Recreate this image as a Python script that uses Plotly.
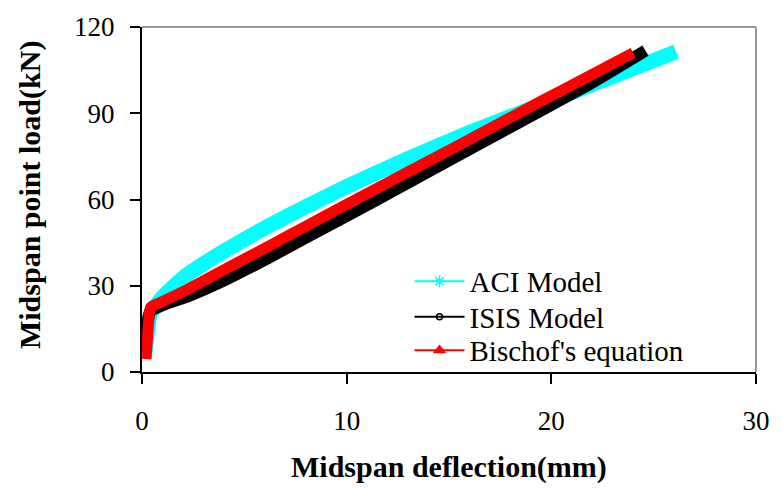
import plotly.graph_objects as go

# Midspan deflection (mm) vs midspan point load (kN) for three deflection models
aci_deflection = [0.12, 0.25, 0.4, 1.0, 2.0, 3.0, 4.0, 6.0, 8.0, 10.0, 13.0, 16.0, 19.5, 22.0, 24.0, 26.1]
aci_load = [5.0, 13.0, 20.0, 26.0, 32.7, 37.6, 42.0, 50.1, 57.5, 64.5, 74.2, 83.3, 93.0, 100.0, 105.6, 111.4]

isis_deflection = [0.05, 0.15, 0.3, 0.42, 1.0, 2.3, 4.2, 6.2, 8.0, 10.0, 13.0, 15.3, 19.5, 22.0, 24.6]
isis_load = [5.5, 12.0, 18.5, 21.3, 23.2, 26.5, 32.5, 39.8, 46.7, 54.3, 65.8, 74.8, 91.0, 100.7, 111.8]

bischof_deflection = [0.19, 0.25, 0.32, 0.42, 1.0, 2.3, 4.2, 6.2, 8.0, 10.0, 13.0, 15.3, 19.5, 22.0, 24.0]
bischof_load = [4.5, 10.0, 17.0, 22.5, 24.5, 29.0, 36.3, 43.8, 50.7, 58.3, 69.6, 78.2, 94.2, 103.5, 111.0]

x_ticks = [0, 10, 20, 30]
y_ticks = [0, 30, 60, 90, 120]

FONT = "Liberation Serif"

# name, x, y, colour, curve width, legend symbol, legend symbol size, legend id, legend row (px from top)
series = [
    ("ACI Model", aci_deflection, aci_load, "#00FFFF", 15, "asterisk-open", 10, "legend", 280),
    ("ISIS Model", isis_deflection, isis_load, "#000000", 12, "circle-open", 6, "legend2", 316),
    ("Bischof's equation", bischof_deflection, bischof_load, "#FF0000", 11, "triangle-up", 9, "legend3", 350),
]

fig = go.Figure()

# Heavy curves drawn from the data
for name, xs, ys, color, width, *_ in series:
    fig.add_trace(go.Scatter(
        x=xs, y=ys, mode="lines", name=name, showlegend=False,
        line=dict(color=color, width=width, shape="spline", smoothing=0.5),
    ))

# Legend entries: thin line with a single marker, each in its own legend box
for name, _, _, color, _, symbol, msize, legend_id, _ in series:
    fig.add_trace(go.Scatter(
        x=[None], y=[None], mode="lines+markers", name=name, legend=legend_id,
        line=dict(color=color, width=2),
        marker=dict(color=color, symbol=symbol, size=msize,
                    line=dict(color=color, width=1.5)),
    ))

axis_common = dict(
    showgrid=False, zeroline=False, showline=True, linecolor="black", linewidth=2,
    ticks="outside", ticklen=10, tickwidth=2, tickcolor="black",
    tickfont=dict(family=FONT, size=27, color="black"),
)

fig.update_xaxes(range=[0, 30], tickvals=x_ticks, ticklabelstandoff=14, **axis_common)
fig.update_yaxes(range=[0, 120], tickvals=y_ticks, ticklabelstandoff=10, **axis_common)

PLOT_TOP, PLOT_BOTTOM = 22, 372
PLOT_LEFT, PLOT_RIGHT = 142, 764


def paper_y(px):
    return (PLOT_BOTTOM - px) / (PLOT_BOTTOM - PLOT_TOP)


legend_style = dict(
    x=(413 - PLOT_LEFT) / (PLOT_RIGHT - PLOT_LEFT), xanchor="left", yanchor="middle",
    bgcolor="rgba(0,0,0,0)", borderwidth=0,
    font=dict(family=FONT, size=29, color="black"),
    itemwidth=50,
)

legends = {legend_id: dict(y=paper_y(row), **legend_style)
           for *_, legend_id, row in series}

fig.update_layout(
    width=782, height=494,
    margin=dict(l=PLOT_LEFT, r=782 - PLOT_RIGHT, t=PLOT_TOP, b=494 - PLOT_BOTTOM),
    plot_bgcolor="white", paper_bgcolor="white",
    showlegend=True,
    **legends,
    shapes=[
        dict(type="line", xref="paper", yref="paper", x0=0, x1=1, y0=1, y1=1,
             line=dict(color="#999999", width=2)),
        dict(type="line", xref="paper", yref="paper", x0=1, x1=1, y0=0, y1=1,
             line=dict(color="#999999", width=2)),
    ],
    annotations=[
        dict(text="<b>Midspan deflection(mm)</b>", xref="paper", yref="paper",
             x=(453 - PLOT_LEFT) / (PLOT_RIGHT - PLOT_LEFT), y=paper_y(468),
             xanchor="center", yanchor="middle", showarrow=False,
             font=dict(family=FONT, size=30, color="black")),
        dict(text="<b>Midspan point load(kN)</b>", xref="paper", yref="paper",
             x=(28 - PLOT_LEFT) / (PLOT_RIGHT - PLOT_LEFT), y=paper_y(192),
             xanchor="center", yanchor="middle", showarrow=False,
             textangle=-90, font=dict(family=FONT, size=30, color="black")),
    ],
)

fig.write_html("out.html")
